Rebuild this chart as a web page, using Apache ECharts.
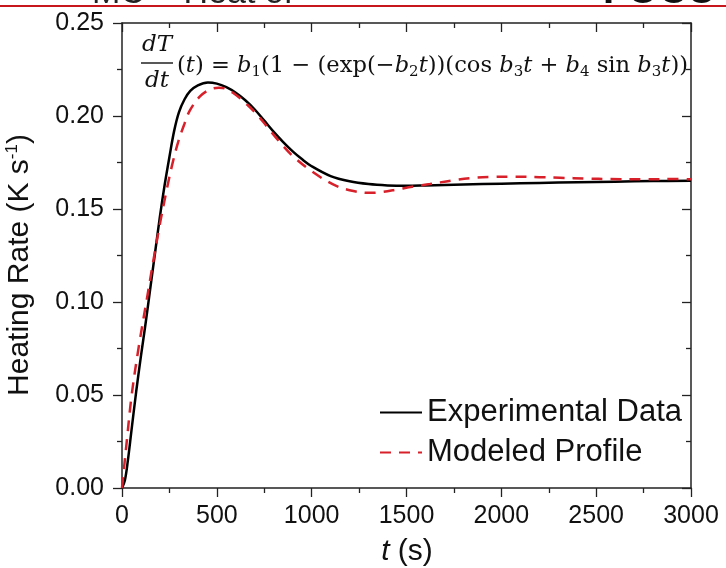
<!DOCTYPE html>
<html>
<head>
<meta charset="utf-8">
<script src="https://cdn.jsdelivr.net/npm/echarts@6/dist/echarts.min.js"></script>
<style>html,body{margin:0;padding:0;background:#fff}#c{width:726px;height:568px}</style>
</head>
<body>
<div id="c"></div>
<script>
// ---- data ----
const tExp = [0, 15, 30, 50, 75, 100, 125, 150, 175, 200, 225, 250, 275, 300, 330, 360, 400, 453, 500, 550, 600, 650, 700, 750, 800, 850, 900, 950, 1000, 1100, 1200, 1300, 1400, 1500, 1600, 1800, 2000, 2200, 2400, 2600, 2800, 3000];
const vExp = [0, 0.004, 0.014, 0.031, 0.052, 0.071, 0.089, 0.108, 0.127, 0.146, 0.163, 0.178, 0.192, 0.202, 0.209, 0.2135, 0.2165, 0.218, 0.2174, 0.2155, 0.2125, 0.2085, 0.2035, 0.1975, 0.1915, 0.186, 0.181, 0.1767, 0.173, 0.1677, 0.1649, 0.1634, 0.1627, 0.1625, 0.1627, 0.1632, 0.1636, 0.164, 0.1644, 0.1647, 0.165, 0.1652];
const tMod = [0, 25, 51, 90, 130, 165, 200, 235, 265, 296, 330, 358, 411, 464, 511, 543, 585, 640, 710, 763, 833, 900, 1000, 1113, 1200, 1300, 1360, 1450, 1530, 1624, 1750, 1851, 1950, 2064, 2200, 2309, 2450, 2573, 2750, 2905, 3000];
const vMod = [0, 0.025, 0.050, 0.077, 0.101, 0.122, 0.142, 0.160, 0.174, 0.186, 0.196, 0.203, 0.2105, 0.2143, 0.2152, 0.2148, 0.2125, 0.208, 0.201, 0.1945, 0.1858, 0.1785, 0.1703, 0.1632, 0.1601, 0.1587, 0.159, 0.1605, 0.162, 0.1634, 0.1655, 0.1667, 0.1672, 0.1674, 0.1671, 0.1668, 0.1664, 0.1661, 0.166, 0.1661, 0.166];
const seriesNames = ['Experimental Data', 'Modeled Profile'];
const xMin = 0, xMax = 3000, xStep = 500;
const yMin = 0, yMax = 0.25, yStep = 0.05;

const pairs = (ts, vs) => ts.map((t, i) => [t, vs[i]]);
const SANS = '"Liberation Sans", Arial, sans-serif';
const SERIF = '"DejaVu Serif", "Liberation Serif", serif';
const AX = '#222';

const chart = echarts.init(document.getElementById('c'), null, {renderer: 'canvas'});

const baseX = {
  type: 'value', min: xMin, max: xMax, interval: xStep,
  axisLine: {show: true, onZero: false, lineStyle: {color: AX, width: 1.5}},
  splitLine: {show: false},
  minorTick: {show: true, splitNumber: 2, length: 5, lineStyle: {color: AX, width: 1.3}},
  axisTick: {show: true, length: 9, lineStyle: {color: AX, width: 1.3}}
};
const baseY = {
  type: 'value', min: yMin, max: yMax, interval: yStep,
  axisLine: {show: true, onZero: false, lineStyle: {color: AX, width: 1.5}},
  splitLine: {show: false},
  minorTick: {show: true, splitNumber: 2, length: 5, lineStyle: {color: AX, width: 1.3}},
  axisTick: {show: true, length: 9, lineStyle: {color: AX, width: 1.3}}
};

const formula = '{n|(}{i|t}{n|) = }{i|b}{s|1}{n|(1 − (exp(−}{i|b}{s|2}{i|t}{n|))(cos }{i|b}{s|3}{i|t}{n| + }{i|b}{s|4}{n| sin }{i|b}{s|3}{i|t}{n|))}';
const fSize = 22.6;

chart.setOption({
  animation: false,
  backgroundColor: '#fff',
  grid: {left: 122, right: 35, top: 23, bottom: 80, containLabel: false},
  xAxis: [
    Object.assign({}, baseX, {
      position: 'bottom',
      axisTick: Object.assign({}, baseX.axisTick, {inside: false}),
      axisLabel: {show: true, margin: 16, fontSize: 25, color: '#111', fontFamily: SANS,
        formatter: v => String(v)}
    }),
    Object.assign({}, baseX, {
      position: 'top',
      axisTick: Object.assign({}, baseX.axisTick, {inside: true}),
      axisLabel: {show: false}
    })
  ],
  yAxis: [
    Object.assign({}, baseY, {
      position: 'left',
      axisTick: Object.assign({}, baseY.axisTick, {inside: false}),
      axisLabel: {show: true, margin: 18, fontSize: 25, color: '#111', fontFamily: SANS,
        formatter: v => v.toFixed(2)}
    }),
    Object.assign({}, baseY, {
      position: 'right',
      axisTick: Object.assign({}, baseY.axisTick, {inside: true}),
      axisLabel: {show: false}
    })
  ],
  legend: {
    orient: 'vertical', left: 374, top: 392, itemGap: 9,
    itemWidth: 42, itemHeight: 16,
    itemStyle: {opacity: 0},
    textStyle: {fontSize: 31, color: '#111', fontFamily: SANS},
    data: seriesNames
  },
  series: [
    {
      name: seriesNames[0], type: 'line', data: pairs(tExp, vExp),
      smooth: 0.35, symbol: 'none', showSymbol: false, z: 3,
      lineStyle: {color: '#000', width: 2.5}, itemStyle: {color: '#000'}
    },
    {
      name: seriesNames[1], type: 'line', data: pairs(tMod, vMod),
      smooth: 0.35, symbol: 'none', showSymbol: false, z: 4,
      lineStyle: {color: '#d8202a', width: 2.5, type: [11, 8]}, itemStyle: {color: '#d8202a'}
    }
  ],
  graphic: [
    // top cut-off slide remnants
    {type: 'rect', shape: {x: 0, y: 5, width: 726, height: 2}, style: {fill: '#c8161d'}, z: 10},
    {type: 'text', x: 92, y: 11, style: {text: 'MC = Heat of', font: '34px ' + SANS, fill: '#222', verticalAlign: 'bottom'}, z: 10},
    {type: 'text', x: 603, y: 12, style: {text: 'FOCU', font: 'bold 40px ' + SANS, fill: '#111', verticalAlign: 'bottom'}, z: 10},
    // y axis title
    {type: 'text', x: 20, y: 265, rotation: Math.PI / 2,
      style: {text: '{a|Heating Rate (K s}{sup|-1}{a|)}', align: 'center', verticalAlign: 'middle',
        rich: {a: {fontSize: 30, fontFamily: SANS, fill: '#111', lineHeight: 34},
               sup: {fontSize: 17, fontFamily: SANS, fill: '#111', lineHeight: 34, padding: [0, 0, 16, 0]}}}},
    // x axis title
    {type: 'text', x: 407, y: 552,
      style: {text: '{i|t}{a| (s)}', align: 'center', verticalAlign: 'middle',
        rich: {i: {fontSize: 30, fontStyle: 'italic', fontFamily: SANS, fill: '#111'},
               a: {fontSize: 30, fontFamily: SANS, fill: '#111'}}}},
    // formula: fraction
    {type: 'text', x: 157, y: 45, style: {text: 'dT', font: 'italic 23px ' + SERIF, fill: '#111', align: 'center', verticalAlign: 'middle'}},
    {type: 'line', shape: {x1: 141, y1: 63, x2: 173, y2: 63}, style: {stroke: '#111', lineWidth: 1.4}},
    {type: 'text', x: 157, y: 81, style: {text: 'dt', font: 'italic 23px ' + SERIF, fill: '#111', align: 'center', verticalAlign: 'middle'}},
    {type: 'text', x: 177, y: 66,
      style: {text: formula, align: 'left', verticalAlign: 'middle',
        rich: {
          n: {fontSize: fSize, fontFamily: SERIF, fill: '#111', lineHeight: 30},
          i: {fontSize: fSize, fontFamily: SERIF, fontStyle: 'italic', fill: '#111', lineHeight: 30},
          s: {fontSize: 15, fontFamily: SERIF, fill: '#111', lineHeight: 30, padding: [13, 0, 0, 0]}
        }}}
  ]
});
</script>
</body>
</html>
